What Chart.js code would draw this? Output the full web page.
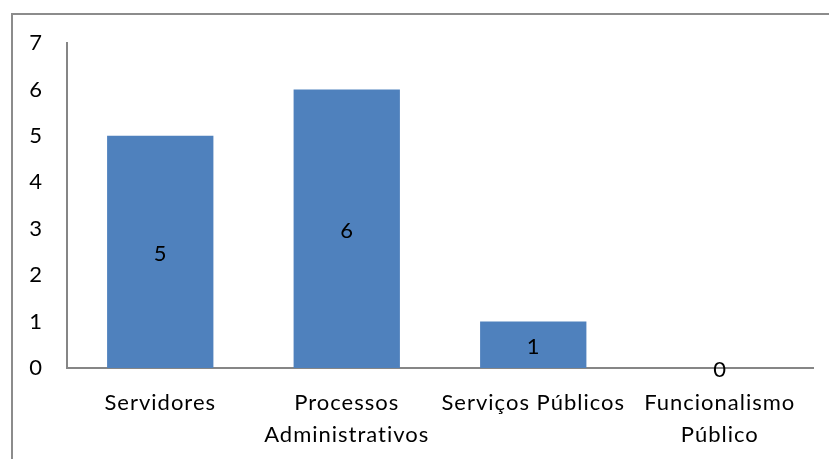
<!DOCTYPE html>
<html>
<head>
<meta charset="utf-8">
<script src="https://cdn.jsdelivr.net/npm/chart.js@4"></script>
<style>
    html, body { margin: 0; padding: 0; background: #fff; }
    #wrap { position: relative; width: 829px; height: 459px; overflow: hidden; }
    #frame {
        position: absolute; left: 11px; top: 13px; width: 840px; height: 460px;
        border-left: 2px solid #8c8c8c; border-top: 2px solid #8c8c8c;
    }
    canvas { position: absolute; left: 0; top: 0; }
</style>
</head>
<body>
<div id="wrap">
    <div id="frame"></div>
    <canvas id="chart" width="829" height="459"></canvas>
</div>
<script>
// Categories and values
const categories = ['Servidores', ['Processos', 'Administrativos'], 'Serviços Públicos', ['Funcionalismo', 'Público']];
const values = [5, 6, 1, 0];
const yTicks = [0, 1, 2, 3, 4, 5, 6, 7];

const FONT = 'Lato, "Open Sans", sans-serif';

// Lato is a bit tighter than the original font, so space it out a little
const spacing = {
    id: 'spacing',
    beforeDraw(chart) {
        chart.ctx.letterSpacing = '1px';
    }
};

// Draw the value in the middle of each bar
const barLabels = {
    id: 'barLabels',
    afterDatasetsDraw(chart) {
        const ctx = chart.ctx;
        const meta = chart.getDatasetMeta(0);
        ctx.save();
        ctx.font = '22px ' + FONT;
        ctx.letterSpacing = '0px';
        ctx.fillStyle = '#000';
        ctx.textAlign = 'center';
        ctx.textBaseline = 'middle';
        meta.data.forEach((bar, i) => {
            const y = (bar.y + bar.base) / 2;
            ctx.fillText(String(values[i]), bar.x, y + 2);
        });
        ctx.restore();
    }
};

new Chart(document.getElementById('chart'), {
    type: 'bar',
    data: {
        labels: categories,
        datasets: [{
            data: values,
            backgroundColor: '#4f81bd',
            borderWidth: 0,
            categoryPercentage: 0.57,
            barPercentage: 1
        }]
    },
    options: {
        responsive: false,
        animation: false,
        layout: { padding: { top: 43, right: 16, left: 0, bottom: 0 } },
        plugins: { legend: { display: false }, tooltip: { enabled: false } },
        scales: {
            x: {
                grid: { display: false, drawTicks: false },
                border: { color: '#868686', width: 2 },
                ticks: {
                    color: '#000',
                    font: { family: FONT, size: 22, lineHeight: 1.45 },
                    padding: 19,
                    maxRotation: 0,
                    autoSkip: false
                },
                afterFit(scale) { scale.height = 91; }
            },
            y: {
                min: 0,
                max: 7,
                afterBuildTicks(scale) { scale.ticks = yTicks.map(v => ({ value: v })); },
                grid: { display: false, drawTicks: false },
                border: { color: '#868686', width: 2 },
                ticks: {
                    color: '#000',
                    font: { family: FONT, size: 22 },
                    padding: 24
                },
                afterFit(scale) { scale.width = 67; }
            }
        }
    },
    plugins: [spacing, barLabels]
});
</script>
</body>
</html>
